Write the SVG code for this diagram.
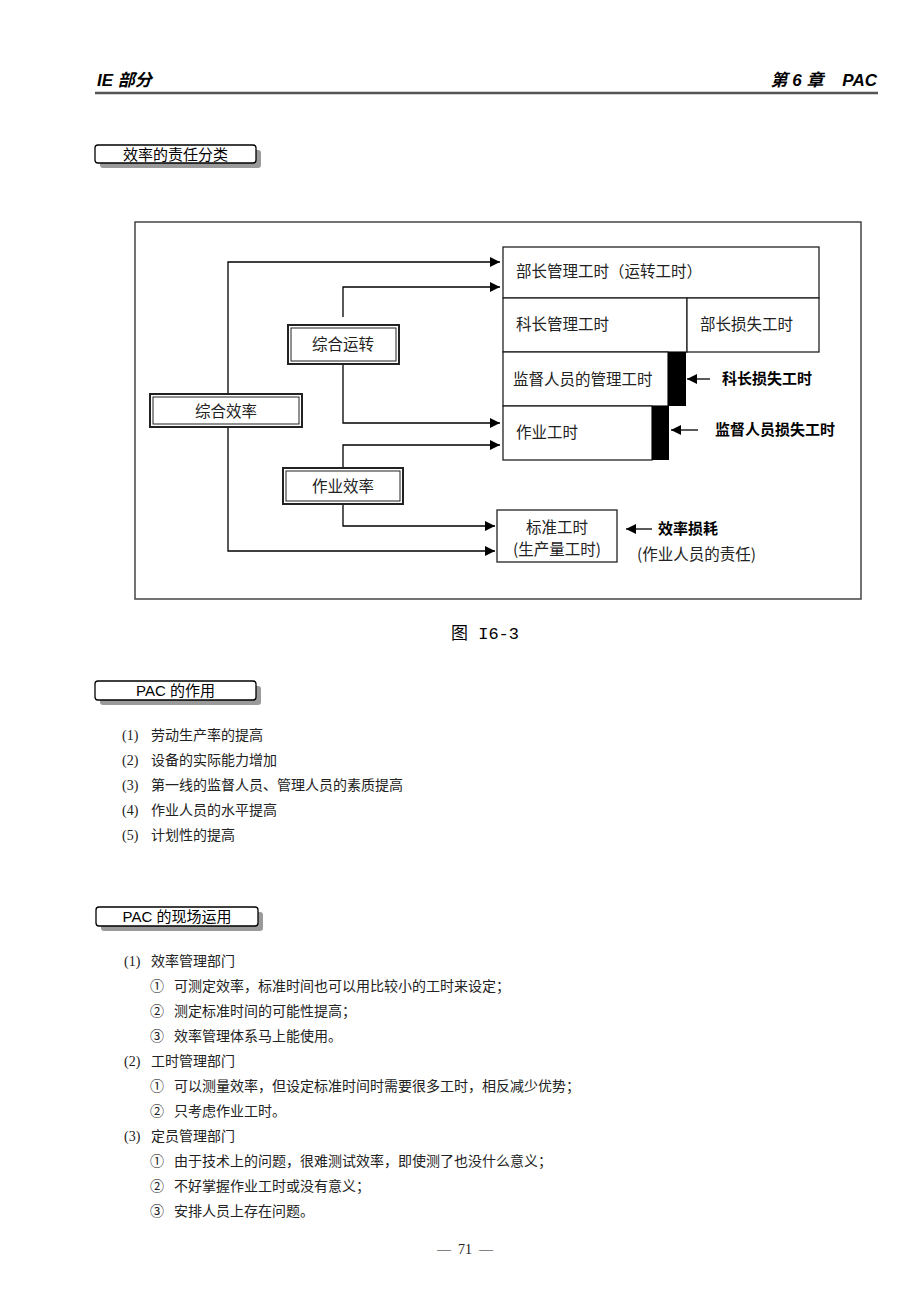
<svg xmlns="http://www.w3.org/2000/svg" width="920" height="1302" viewBox="0 0 920 1302">
<defs>
<marker id="ah" viewBox="0 0 10 10" refX="10" refY="5" markerWidth="10" markerHeight="10" markerUnits="userSpaceOnUse" orient="auto"><path d="M0,0 L10,5 L0,10 z" fill="#000"/></marker>
<style>
.t{font-family:"Noto Sans CJK SC",sans-serif;font-size:14px;fill:#222}
.n{font-family:"Liberation Serif",serif;font-size:14px;fill:#222}
.d{font-family:"Noto Sans CJK SC",sans-serif;font-size:15.5px;fill:#222}
.b{font-family:"Noto Sans CJK SC",sans-serif;font-size:15px;font-weight:bold;fill:#000}
.ln{fill:none;stroke:#000;stroke-width:1.3}
.box{fill:#fff;stroke:#222;stroke-width:1.3}
.lab{font-family:"Noto Sans CJK SC",sans-serif;font-size:15px;fill:#000}
.sh{fill:#9a9a9a}
.tag{fill:#fff;stroke:#000;stroke-width:1.3}
</style>
</defs>
<rect width="920" height="1302" fill="#fff"/>
<g id="header">
<text x="97" y="86" font-family="Liberation Sans, Noto Sans CJK SC, sans-serif" font-size="17" font-style="italic" font-weight="bold">IE 部分</text>
<text x="877" y="86" text-anchor="end" font-family="Liberation Sans, Noto Sans CJK SC, sans-serif" font-size="17" font-style="italic" font-weight="bold" xml:space="preserve">第 6 章    PAC</text>
<line x1="95" y1="93" x2="878" y2="93" stroke="#555" stroke-width="2.5"/>
</g>
<g id="sec1">
<rect x="100" y="150" width="161" height="18" rx="3" class="sh"/>
<rect x="95" y="145" width="161" height="18" rx="3" class="tag"/>
<text x="175.5" y="159.5" text-anchor="middle" class="lab">效率的责任分类</text>
</g>
<g id="frame"><rect x="135" y="222" width="726" height="377" fill="none" stroke="#444" stroke-width="1.5"/></g>
<g id="connectors">
<path class="ln" d="M228,393 V262 H500" marker-end="url(#ah)"/>
<path class="ln" d="M343,317 V287 H500" marker-end="url(#ah)"/>
<path class="ln" d="M343,364 V423 H500" marker-end="url(#ah)"/>
<path class="ln" d="M343,468 V445 H500" marker-end="url(#ah)"/>
<path class="ln" d="M343,504 V526 H495" marker-end="url(#ah)"/>
<path class="ln" d="M228,427 V551 H495" marker-end="url(#ah)"/>
<path class="ln" d="M710,379 H687" marker-end="url(#ah)"/>
<path class="ln" d="M698,430 H671" marker-end="url(#ah)"/>
<path class="ln" d="M652,529 H626" marker-end="url(#ah)"/>
</g>
<g id="n-zonghexiaolv">
<rect x="150" y="394" width="152" height="33" fill="#fff" stroke="#222" stroke-width="2"/>
<rect x="153" y="397" width="146" height="27" fill="none" stroke="#222" stroke-width="1"/>
<text x="226" y="417" text-anchor="middle" class="d">综合效率</text>
</g>
<g id="n-zongheyunzhuan">
<rect x="288" y="325" width="111" height="39" fill="#fff" stroke="#222" stroke-width="2"/>
<rect x="291" y="328" width="105" height="33" fill="none" stroke="#222" stroke-width="1"/>
<text x="343" y="350" text-anchor="middle" class="d">综合运转</text>
</g>
<g id="n-zuoyexiaolv">
<rect x="283" y="468" width="120" height="36" fill="#fff" stroke="#222" stroke-width="2"/>
<rect x="286" y="471" width="114" height="30" fill="none" stroke="#222" stroke-width="1"/>
<text x="343" y="492" text-anchor="middle" class="d">作业效率</text>
</g>
<g id="n-buzhang">
<rect x="503" y="247" width="316" height="51" class="box"/>
<text x="516" y="277" class="d">部长管理工时（运转工时）</text>
</g>
<g id="n-kezhang">
<rect x="503" y="298" width="184" height="54" class="box"/>
<text x="516" y="330" class="d">科长管理工时</text>
</g>
<g id="n-buzhangsunshi">
<rect x="687" y="298" width="132" height="54" class="box"/>
<text x="700" y="330" class="d">部长损失工时</text>
</g>
<g id="n-jiandu">
<rect x="503" y="352" width="165" height="54" class="box"/>
<rect x="668" y="352" width="18" height="54" fill="#000"/>
<text x="513" y="385" class="d">监督人员的管理工时</text>
</g>
<g id="n-zuoye">
<rect x="503" y="406" width="149" height="54" class="box"/>
<rect x="652" y="406" width="17" height="54" fill="#000"/>
<text x="516" y="438" class="d">作业工时</text>
</g>
<g id="n-biaozhun">
<rect x="497" y="510" width="120" height="52" class="box"/>
<text x="557" y="533" text-anchor="middle" class="d">标准工时</text>
<text x="557" y="555" text-anchor="middle" class="d">(生产量工时)</text>
</g>
<g id="l-kezhangsunshi"><text x="722" y="384" class="b">科长损失工时</text></g>
<g id="l-jiandusunshi"><text x="715" y="435" class="b">监督人员损失工时</text></g>
<g id="l-xiaolvsunhao"><text x="658" y="534" class="b">效率损耗</text><text x="637" y="560" class="d" font-size="15">(作业人员的责任)</text></g>
<g id="caption"><text x="485" y="639" text-anchor="middle" font-family="Liberation Mono, Noto Sans CJK SC, monospace" font-size="17">图 I6-3</text></g>
<g id="sec2">
<rect x="100" y="686" width="161" height="19" rx="3" class="sh"/>
<rect x="95" y="681" width="161" height="19" rx="3" class="tag"/>
<text x="175.5" y="696" text-anchor="middle" class="lab"><tspan font-family="Liberation Sans Narrow, Liberation Sans, sans-serif">PAC </tspan>的作用</text>
</g>
<g id="list1">
<text x="122" y="740" class="n">(1)</text><text x="151" y="740" class="t">劳动生产率的提高</text>
<text x="122" y="765" class="n">(2)</text><text x="151" y="765" class="t">设备的实际能力增加</text>
<text x="122" y="790" class="n">(3)</text><text x="151" y="790" class="t">第一线的监督人员、管理人员的素质提高</text>
<text x="122" y="815" class="n">(4)</text><text x="151" y="815" class="t">作业人员的水平提高</text>
<text x="122" y="840" class="n">(5)</text><text x="151" y="840" class="t">计划性的提高</text>
</g>
<g id="sec3">
<rect x="101" y="912" width="162" height="19" rx="3" class="sh"/>
<rect x="96" y="907" width="162" height="19" rx="3" class="tag"/>
<text x="177" y="922" text-anchor="middle" class="lab"><tspan font-family="Liberation Sans Narrow, Liberation Sans, sans-serif">PAC </tspan>的现场运用</text>
</g>
<g id="list2">
<text x="124" y="966" class="n">(1)</text><text x="151" y="966" class="t">效率管理部门</text>
<text x="150" y="991" class="t">①</text><text x="174" y="991" class="t">可测定效率，标准时间也可以用比较小的工时来设定；</text>
<text x="150" y="1016" class="t">②</text><text x="174" y="1016" class="t">测定标准时间的可能性提高；</text>
<text x="150" y="1041" class="t">③</text><text x="174" y="1041" class="t">效率管理体系马上能使用。</text>
<text x="124" y="1066" class="n">(2)</text><text x="151" y="1066" class="t">工时管理部门</text>
<text x="150" y="1091" class="t">①</text><text x="174" y="1091" class="t">可以测量效率，但设定标准时间时需要很多工时，相反减少优势；</text>
<text x="150" y="1116" class="t">②</text><text x="174" y="1116" class="t">只考虑作业工时。</text>
<text x="124" y="1141" class="n">(3)</text><text x="151" y="1141" class="t">定员管理部门</text>
<text x="150" y="1166" class="t">①</text><text x="174" y="1166" class="t">由于技术上的问题，很难测试效率，即使测了也没什么意义；</text>
<text x="150" y="1191" class="t">②</text><text x="174" y="1191" class="t">不好掌握作业工时或没有意义；</text>
<text x="150" y="1216" class="t">③</text><text x="174" y="1216" class="t">安排人员上存在问题。</text>
</g>
<g id="pagenum"><text x="465" y="1254" text-anchor="middle" class="n" font-size="13" xml:space="preserve">—  71  —</text></g>
</svg>
